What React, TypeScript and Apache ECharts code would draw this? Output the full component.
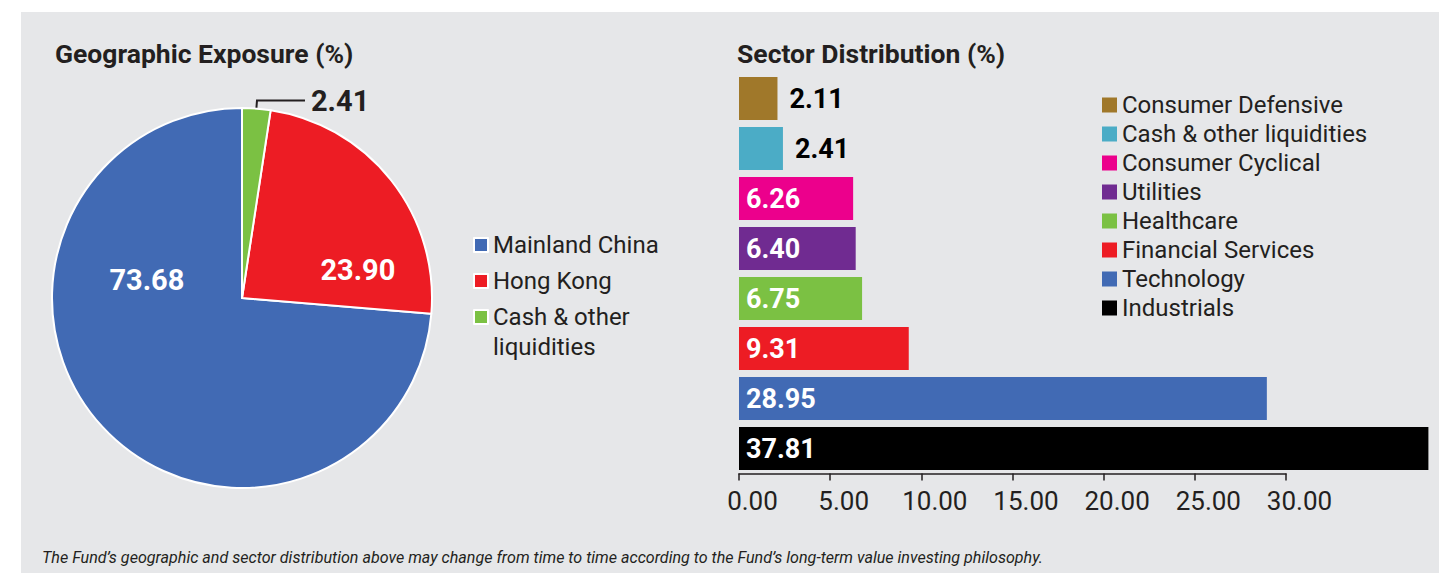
import React, { useEffect, useRef } from "react";
import * as echarts from "echarts";

// ---- Data ----
const pieNames = ["Mainland China", "Hong Kong", "Cash & other\nliquidities"];
const pieValues = [73.68, 23.9, 2.41];
const pieColors = ["#416ab4", "#ed1c24", "#7bc143"];

const sectorNames = [
  "Consumer Defensive",
  "Cash & other liquidities",
  "Consumer Cyclical",
  "Utilities",
  "Healthcare",
  "Financial Services",
  "Technology",
  "Industrials",
];
const sectorValues = [2.11, 2.41, 6.26, 6.4, 6.75, 9.31, 28.95, 37.81];
const sectorColors = [
  "#a0782a",
  "#4bacc6",
  "#ec008c",
  "#702b91",
  "#7bc143",
  "#ed1c24",
  "#416ab4",
  "#000000",
];

const xTicks = { min: 0, max: 30, interval: 5 };

const titleLeft = "Geographic Exposure (%)";
const titleRight = "Sector Distribution (%)";
const footnote =
  "The Fund\u2019s geographic and sector distribution above may change from time to time according to the Fund\u2019s long-term value investing philosophy.";

const FONT = "Roboto";
const DARK = "#231f20";

export default function App() {
  const ref = useRef<HTMLDivElement>(null);

  useEffect(() => {
    if (!ref.current) return;
    const chart = echarts.init(ref.current, undefined, { renderer: "svg" });

    const pieLabelOffsets: Record<string, number[]> = {
      "Mainland China": [-23, -84],
      "Hong Kong": [39, 33],
    };

    const pieData = pieNames.map((name, i) => {
      const inside = name in pieLabelOffsets;
      return {
        name,
        value: pieValues[i],
        itemStyle: { color: pieColors[i] },
        label: inside
          ? { position: "inside", offset: pieLabelOffsets[name], color: "#ffffff" }
          : { position: "outside", color: DARK, distanceToLabelLine: 6 },
        labelLine: inside
          ? { show: false }
          : { show: true, length: 8, length2: 48, lineStyle: { color: DARK, width: 2 } },
      };
    });

    const barSeries = sectorNames.map((name, i) => {
      const small = sectorValues[i] < 3;
      return {
        name,
        type: "bar",
        stack: "all",
        xAxisIndex: 0,
        yAxisIndex: 0,
        barWidth: 43,
        clip: false,
        itemStyle: { color: sectorColors[i] },
        label: {
          show: true,
          position: small ? "right" : "insideLeft",
          distance: small ? 12 : 7,
          color: small ? "#000000" : "#ffffff",
          fontFamily: FONT,
          fontWeight: "bold",
          fontSize: 27,
          formatter: (p: any) => Number(p.value).toFixed(2),
        },
        data: sectorValues.map((v, j) => (j === i ? v : "-")),
      };
    });

    const pieLegendText = { fontFamily: FONT, fontSize: 24, color: DARK, lineHeight: 30 };

    chart.setOption({
      animation: false,
      backgroundColor: "#ffffff",
      textStyle: { fontFamily: FONT },
      title: [
        {
          text: titleLeft,
          left: 55,
          top: 40,
          padding: 0,
          textStyle: { fontFamily: FONT, fontSize: 26.5, fontWeight: "bold", color: DARK },
        },
        {
          text: titleRight,
          left: 737,
          top: 40,
          padding: 0,
          textStyle: { fontFamily: FONT, fontSize: 26.5, fontWeight: "bold", color: DARK },
        },
      ],
      graphic: [
        {
          type: "rect",
          z: -10,
          silent: true,
          shape: { x: 21, y: 12, width: 1418, height: 561 },
          style: { fill: "#e6e7e9" },
        },
        {
          type: "text",
          left: 42,
          top: 549,
          silent: true,
          style: {
            text: footnote,
            fontFamily: FONT,
            fontSize: 16.1,
            fontStyle: "italic",
            fill: DARK,
          },
        },
      ],
      legend: [
        {
          orient: "vertical",
          left: 473,
          top: 230,
          padding: 0,
          itemWidth: 14,
          itemHeight: 14,
          itemGap: 6,
          icon: "rect",
          selectedMode: false,
          data: [pieNames[0], pieNames[1]],
          textStyle: pieLegendText,
        },
        {
          orient: "vertical",
          left: 473,
          top: 302,
          padding: 0,
          itemWidth: 14,
          itemHeight: 44,
          icon: "path://M0,0H14V14H0ZM0,44L0,44Z",
          selectedMode: false,
          data: [pieNames[2]],
          textStyle: pieLegendText,
        },
        {
          orient: "vertical",
          left: 1102,
          top: 93,
          padding: 0,
          itemWidth: 15,
          itemHeight: 15,
          itemGap: 5,
          icon: "rect",
          selectedMode: false,
          data: sectorNames,
          textStyle: { fontFamily: FONT, fontSize: 24, color: DARK, lineHeight: 24 },
        },
      ],
      grid: [
        { left: 739, top: 73.5, width: 547, height: 400 },
        { left: 752.5, top: 73.5, width: 547, height: 400 },
      ],
      xAxis: [
        {
          gridIndex: 0,
          type: "value",
          ...xTicks,
          axisLine: { show: true, lineStyle: { color: DARK, width: 1.5 } },
          axisTick: { show: true, length: 7, lineStyle: { color: DARK, width: 1.5 } },
          axisLabel: { show: false },
          splitLine: { show: false },
        },
        {
          gridIndex: 1,
          type: "value",
          ...xTicks,
          axisLine: { show: false },
          axisTick: { show: false },
          splitLine: { show: false },
          axisLabel: {
            show: true,
            margin: 14,
            fontFamily: FONT,
            fontSize: 26,
            color: DARK,
            formatter: (v: number) => v.toFixed(2),
          },
        },
      ],
      yAxis: [
        { gridIndex: 0, type: "category", inverse: true, data: sectorNames, show: false },
        { gridIndex: 1, type: "category", inverse: true, data: sectorNames, show: false },
      ],
      series: [
        {
          name: "Geographic Exposure",
          type: "pie",
          center: [242, 298],
          radius: 190,
          startAngle: 90,
          clockwise: false,
          avoidLabelOverlap: false,
          itemStyle: { borderColor: "#ffffff", borderWidth: 2 },
          label: {
            show: true,
            fontFamily: FONT,
            fontWeight: "bold",
            fontSize: 29,
            formatter: (p: any) => Number(p.value).toFixed(2),
          },
          emphasis: { disabled: true },
          data: pieData,
        },
        ...barSeries,
      ],
    });

    return () => chart.dispose();
  }, []);

  return (
    <div
      ref={ref}
      style={{ position: "absolute", left: 0, top: 0, width: 1439, height: 573 }}
    />
  );
}
